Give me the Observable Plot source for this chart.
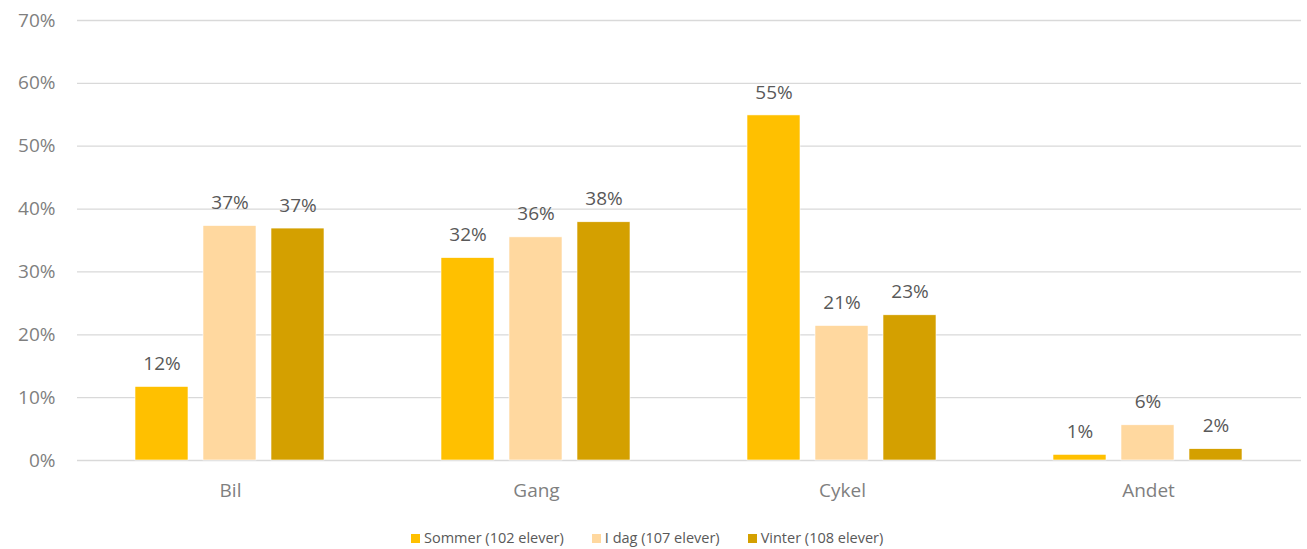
<!DOCTYPE html>
<html>
<head>
<meta charset="utf-8">
<script src="https://cdn.jsdelivr.net/npm/d3@7"></script>
<script src="https://cdn.jsdelivr.net/npm/@observablehq/plot@0.6"></script>
<style>
  body { margin: 0; background: #fff; font-family: "Open Sans", sans-serif; }
  #legend { display: flex; justify-content: flex-start; gap: 28px; margin-top: 18px; height: 20px; line-height: 20px; font-size: 14.5px; color: #595959; padding-left: 411px; }
  #legend span.sw { display: inline-block; width: 9px; height: 9px; margin-right: 4px; vertical-align: 0px; }
</style>
</head>
<body>
<div id="chart"></div>
<div id="legend"></div>
<script>
const categories = ["Bil", "Gang", "Cykel", "Andet"];
const seriesNames = ["Sommer (102 elever)", "I dag (107 elever)", "Vinter (108 elever)"];
const sommer = [11.7, 32.2, 54.9, 0.9];
const idag = [37.3, 35.5, 21.4, 5.6];
const vinter = [36.9, 37.9, 23.1, 1.8];
const colors = ["#FFC000", "#FFD89F", "#D4A000"];
const yTicks = [0, 10, 20, 30, 40, 50, 60, 70];

const seriesValues = [sommer, idag, vinter];
const data = [];
categories.forEach((c, i) => {
  seriesNames.forEach((s, j) => {
    data.push({category: c, series: s, value: seriesValues[j][i]});
  });
});

const chart = Plot.plot({
  width: 1307,
  height: 510,
  marginTop: 20,
  marginBottom: 50,
  marginLeft: 77,
  marginRight: 6,
  style: {fontFamily: "'Open Sans', sans-serif", fontSize: "19px", color: "#7f7f7f"},
  fx: {domain: categories, padding: 0, label: null},
  x: {domain: seriesNames, paddingInner: 0.22, paddingOuter: 0.86, axis: null},
  y: {domain: [0, 70], label: null},
  color: {domain: seriesNames, range: colors},
  marks: [
    Plot.ruleY(yTicks, {stroke: "#d9d9d9", strokeWidth: 1.3}),
    Plot.axisY(yTicks, {tickSize: 0, tickPadding: 22, tickFormat: d => d + "%", label: null, fill: "#7f7f7f", fontSize: 19}),
    Plot.axisFx({anchor: "bottom", tickSize: 0, tickPadding: 23, label: null, fill: "#7f7f7f", fontSize: 19}),
    Plot.barY(data, {fx: "category", x: "series", y: "value", fill: "series", stroke: "white", strokeWidth: 0.6}),
    Plot.text(data, {fx: "category", x: "series", y: "value", text: d => Math.round(d.value) + "%", dy: -23, fill: "#595959", fontSize: 19})
  ]
});
document.getElementById("chart").appendChild(chart);

const legend = document.getElementById("legend");
seriesNames.forEach((s, j) => {
  const item = document.createElement("div");
  const sw = document.createElement("span");
  sw.className = "sw";
  sw.style.background = colors[j];
  item.appendChild(sw);
  item.appendChild(document.createTextNode(s));
  legend.appendChild(item);
});
</script>
</body>
</html>
